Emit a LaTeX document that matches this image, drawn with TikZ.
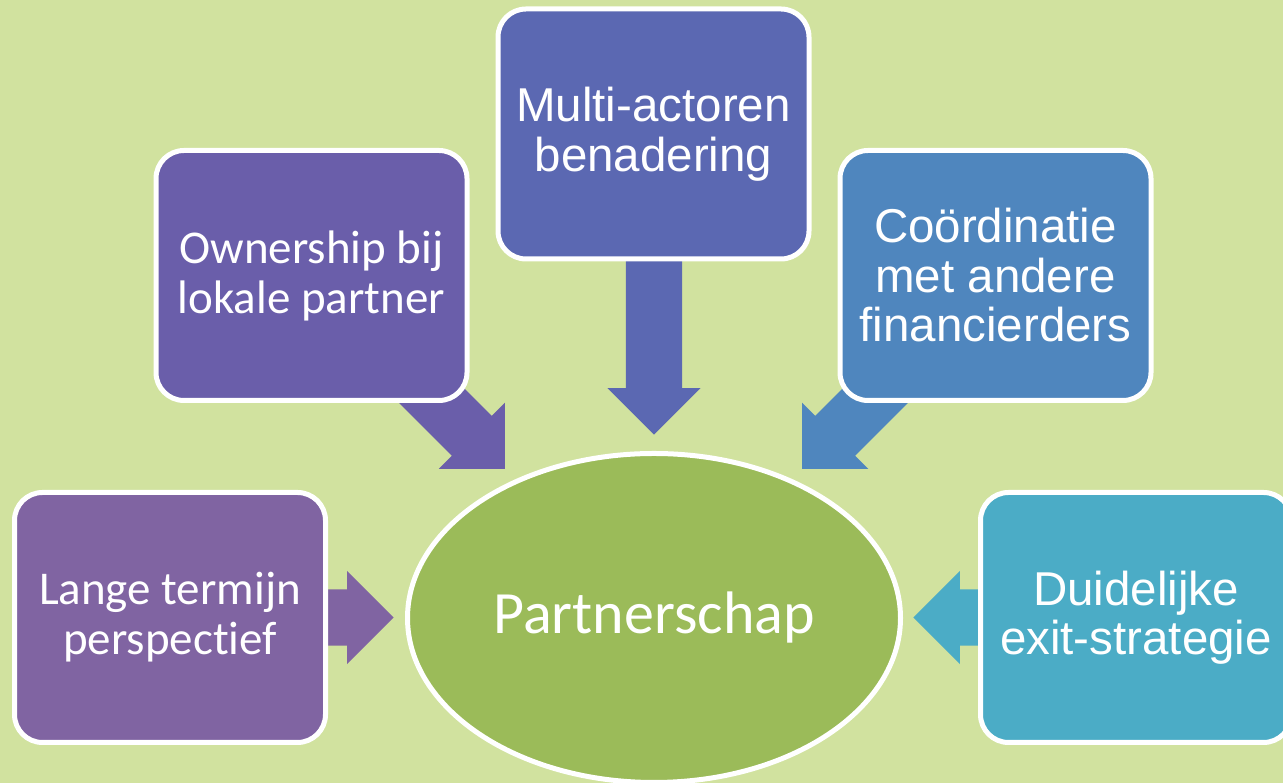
\documentclass[tikz,border=0pt]{standalone}
\usepackage{fontspec}
\setmainfont{Liberation Sans}
\newfontfamily\calibri[Ligatures=NoCommon]{Carlito}
\usetikzlibrary{shapes.geometric,shapes.arrows}

\definecolor{achtergrond}{RGB}{209,226,159}
\definecolor{kleurlange}{RGB}{128,100,162}
\definecolor{kleureigen}{RGB}{106,94,170}
\definecolor{kleurmulti}{RGB}{91,104,178}
\definecolor{kleurcoord}{RGB}{79,134,190}
\definecolor{kleurexit}{RGB}{75,172,198}
\definecolor{kleurpartner}{RGB}{155,187,89}

\tikzset{
  blok/.style={rectangle, rounded corners=28, draw=white, line width=5,
    minimum width=311, minimum height=250, inner sep=0, text=white, align=center},
  pijl/.style={single arrow, single arrow tip angle=90, single arrow head extend=18.5,
    inner xsep=0, inner ysep=28, anchor=tip},
  arial/.style={font=\fontsize{47.5}{49.5}\selectfont},
  carlito/.style={font=\calibri\fontsize{47}{50}\selectfont}
}

\begin{document}
\begin{tikzpicture}[x=1pt, y=1pt]
  \fill[achtergrond] (0,0) rectangle (1283,783);
  \clip (0,0) rectangle (1283,783);
  \node[pijl, fill=kleurlange, minimum height=74] (p1) at (394,165.5) {};
  \node[pijl, fill=kleureigen, minimum height=146, rotate=-45] (p2) at (505,314) {};
  \node[pijl, fill=kleurmulti, minimum height=180, rotate=-90] (p3) at (654,348) {};
  \node[pijl, fill=kleurcoord, minimum height=146, rotate=-135] (p4) at (802,314) {};
  \node[pijl, fill=kleurexit, minimum height=74, rotate=180] (p5) at (913,165.5) {};
  \node[blok, fill=kleurlange, carlito] (lange) at (170,165.5) {Lange termijn\\perspectief};
  \node[blok, fill=kleureigen, carlito] (eigen) at (311.5,507.5) {Ownership bij\\lokale partner};
  \node[blok, fill=kleurmulti, arial] (multi) at (653.5,649) {Multi-actoren\\benadering};
  \node[blok, fill=kleurcoord, arial] (coord) at (995.5,507.5) {Coördinatie\\met andere\\financierders};
  \node[blok, fill=kleurexit, arial] (exit) at (1136,165.5) {Duidelijke\\exit-strategie};
  \node[ellipse, fill=kleurpartner, draw=white, line width=5, minimum width=493,
    minimum height=329, inner sep=0, text=white,
    font=\calibri\fontsize{60}{60}\selectfont] (partner) at (654,165) {Partnerschap};
\end{tikzpicture}
\end{document}
